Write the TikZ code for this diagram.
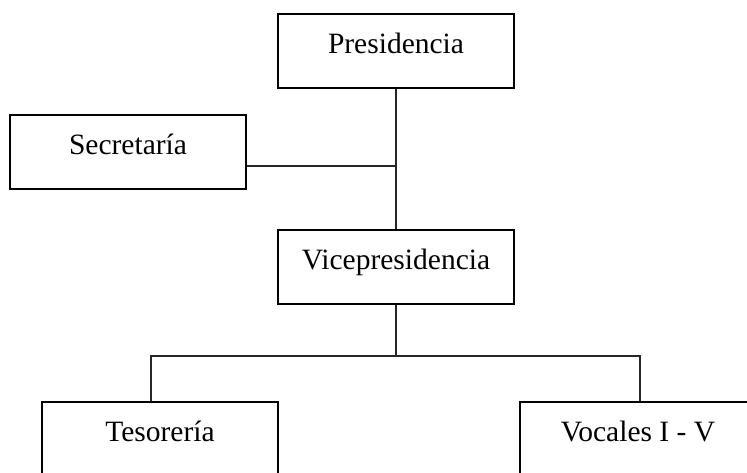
\documentclass[tikz,border=0pt]{standalone}
\usepackage{fontspec}
\setmainfont{Liberation Serif}
\usepackage{tikz}
\usetikzlibrary{positioning,calc}

\begin{document}
\begin{tikzpicture}[
  x=1pt, y=-1pt,
  every node/.style={align=center},
  % Organisation boxes (text sits in the upper part)
  orgbox/.style={
    rectangle, draw=black, line width=2.6pt,
    minimum width=236pt, minimum height=74pt,
    inner xsep=0pt, inner ysep=0pt,
    text height=39pt, text depth=35pt,
    font=\fontsize{29.5}{34}\selectfont
  },
  % Connectors
  link/.style={draw=black!85, line width=1.2pt},
]

\clip (0,0) rectangle (747,472);

% -------------------------------------------------------
% TOP — Presidencia and Secretaría
% -------------------------------------------------------
\node[orgbox] (pres) at (396,51)  {Presidencia};
\node[orgbox] (sec)  at (128,152) {Secretaría};

% -------------------------------------------------------
% MIDDLE — Vicepresidencia
% -------------------------------------------------------
\node[orgbox] (vice) at (396,267) {Vicepresidencia};

% -------------------------------------------------------
% BOTTOM — Tesorería and Vocales
% -------------------------------------------------------
\node[orgbox] (tes)  at (160,439) {Tesorería};
\node[orgbox] (voc)  at (638,439) {Vocales I - V};

% Junction points
\coordinate (secj) at (397,166);
\coordinate (bl)   at (151,356);
\coordinate (br)   at (640,356);

% Edges
\draw[link] (pres) -- (vice);
\draw[link] (secj) -- (secj -| sec.east);
\draw[link] (vice.south) -- (vice.south |- bl);
\draw[link] (bl |- tes.north) -- (bl) -- (br) -- (br |- voc.north);

\end{tikzpicture}
\end{document}
